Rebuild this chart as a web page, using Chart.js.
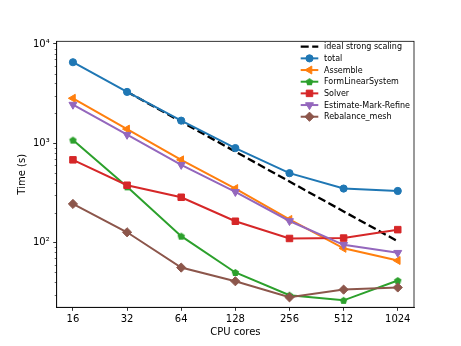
<!DOCTYPE html>
<html>
<head>
<meta charset="utf-8">
<script src="https://cdn.jsdelivr.net/npm/chart.js@4/dist/chart.umd.min.js"></script>
<style>
  html, body { margin: 0; padding: 0; background: #fff; }
  #wrap { width: 461px; height: 346px; }
</style>
</head>
<body>
<div id="wrap"><canvas id="timing"></canvas></div>
<script>
// data
const cores = [16, 32, 64, 128, 256, 512, 1024];
const idealScaling = [null, 3300, 1650, 825, 412, 206, 103];
const total = [6550, 3290, 1690, 895, 500, 350, 331];
const assemble = [2840, 1390, 681, 350, 171, 87.5, 66];
const formLinearSystem = [1077, 364, 116, 50, 29.5, 26.2, 41.5];
const solver = [681, 378, 286, 164, 110, 111, 135];
const estimateMarkRefine = [2450, 1220, 607, 324, 165, 95, 79];
const rebalanceMesh = [245, 127, 56, 40.8, 28.1, 33.6, 35.3];
const yMajorTicks = [100, 1000, 10000];
const supDigits = { 2: '\u00b2', 3: '\u00b3', 4: '\u2074' };

// pentagon marker ('p' in matplotlib) as a tiny canvas
function pentagon(color) {
  const c = document.createElement('canvas');
  c.width = 9; c.height = 9;
  const g = c.getContext('2d');
  g.beginPath();
  for (let i = 0; i < 5; i++) {
    const a = -Math.PI / 2 + i * 2 * Math.PI / 5;
    const px = 4.5 + 3.9 * Math.cos(a), py = 4.8 + 3.9 * Math.sin(a);
    i ? g.lineTo(px, py) : g.moveTo(px, py);
  }
  g.closePath();
  g.fillStyle = color;
  g.fill();
  return c;
}

function series(label, data, color, style, radius, rotation, order) {
  return {
    label, data, order,
    borderColor: color, backgroundColor: color,
    borderWidth: 2,
    pointStyle: style, pointRadius: radius, pointRotation: rotation || 0,
    pointBorderWidth: 1, pointHoverRadius: radius
  };
}

const datasets = [
  {
    label: 'ideal strong scaling', data: idealScaling, order: 7,
    borderColor: '#000', backgroundColor: '#000', borderWidth: 2.3,
    borderDash: [8, 3.5], pointRadius: 0, pointStyle: false
  },
  series('total', total, '#1f77b4', 'circle', 3.6, 0, 6),
  series('Assemble', assemble, '#ff7f0e', 'triangle', 4.6, -90, 5),
  series('FormLinearSystem', formLinearSystem, '#2ca02c', pentagon('#2ca02c'), 4, 0, 4),
  series('Solver', solver, '#d62728', 'rect', 4.6, 0, 3),
  series('Estimate-Mark-Refine', estimateMarkRefine, '#9467bd', 'triangle', 4.6, 180, 2),
  series('Rebalance_mesh', rebalanceMesh, '#8c564b', 'rectRot', 4.6, 0, 1)
];

// frame on all four sides + minor y ticks
const framePlugin = {
  id: 'frame',
  afterDraw(chart) {
    const { ctx, chartArea: a } = chart;
    const y = chart.scales.y;
    ctx.save();
    ctx.strokeStyle = '#000';
    ctx.lineWidth = 0.8;
    ctx.strokeRect(a.left, a.top, a.right - a.left, a.bottom - a.top);
    ctx.lineWidth = 0.6;
    for (let k = 1; k <= 4; k++) {
      for (let m = 2; m <= 9; m++) {
        const v = m * Math.pow(10, k);
        if (v < y.min || v > y.max) continue;
        const py = Math.round(y.getPixelForValue(v)) + 0.5;
        ctx.beginPath();
        ctx.moveTo(a.left - 2, py);
        ctx.lineTo(a.left, py);
        ctx.stroke();
      }
    }
    ctx.restore();
  }
};

// legend drawn inside the axes, upper right, like matplotlib
const legendPlugin = {
  id: 'innerLegend',
  afterDraw(chart) {
    const { ctx } = chart;
    const x0 = 300.7, x1 = 318.3, tx = 324, top = 46.7, step = 11.67;
    ctx.save();
    ctx.font = '8px "DejaVu Sans"';
    ctx.textBaseline = 'middle';
    chart.data.datasets.forEach((ds, i) => {
      const yy = top + i * step;
      ctx.strokeStyle = ds.borderColor;
      ctx.fillStyle = ds.backgroundColor;
      ctx.lineWidth = ds.borderWidth;
      ctx.setLineDash(ds.borderDash || []);
      ctx.beginPath();
      ctx.moveTo(x0, yy);
      ctx.lineTo(x1, yy);
      ctx.stroke();
      ctx.setLineDash([]);
      if (ds.pointRadius) {
        ctx.lineWidth = 1;
        Chart.helpers.drawPoint(ctx, {
          pointStyle: ds.pointStyle, rotation: ds.pointRotation,
          radius: ds.pointRadius, borderWidth: 1
        }, (x0 + x1) / 2, yy);
      }
      ctx.fillStyle = '#000';
      ctx.fillText(ds.label, tx, yy + 0.5);
    });
    ctx.restore();
  }
};

Chart.defaults.font.family = '"DejaVu Sans"';
Chart.defaults.font.size = 10;
Chart.defaults.color = '#000';

new Chart(document.getElementById('timing'), {
  type: 'line',
  data: { labels: cores, datasets },
  options: {
    responsive: true,
    maintainAspectRatio: false,
    animation: false,
    events: [],
    layout: { padding: { left: 0, right: 47, top: 41.3, bottom: 0 } },
    plugins: { legend: { display: false }, tooltip: { enabled: false } },
    scales: {
      x: {
        type: 'logarithmic',
        min: 12.996, max: 1260.7,
        afterBuildTicks: s => { s.ticks = cores.map(v => ({ value: v })); },
        afterFit: s => { s.height = 38.7; },
        grid: { drawOnChartArea: false, tickLength: 3.5, tickWidth: 0.8, tickColor: '#000' },
        border: { color: '#000', width: 0.8 },
        ticks: { autoSkip: false, maxRotation: 0, padding: 3, callback: v => String(v) },
        title: { display: true, text: 'CPU cores', padding: { top: 0, bottom: 7.7 } }
      },
      y: {
        type: 'logarithmic',
        min: 22.3, max: 10641,
        afterBuildTicks: s => { s.ticks = yMajorTicks.map(v => ({ value: v })); },
        afterFit: s => { s.width = 56.7; },
        grid: { drawOnChartArea: false, tickLength: 3.5, tickWidth: 0.8, tickColor: '#000' },
        border: { color: '#000', width: 0.8 },
        ticks: {
          autoSkip: false, padding: 3.5,
          callback: v => '10' + supDigits[Math.round(Math.log10(v))]
        },
        title: { display: true, text: 'Time (s)', padding: { top: 16, bottom: 0 } }
      }
    }
  },
  plugins: [framePlugin, legendPlugin]
});
</script>
</body>
</html>
